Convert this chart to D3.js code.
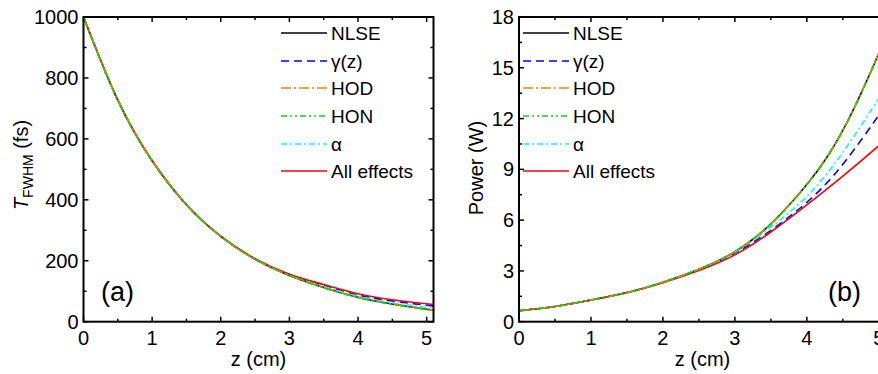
<!DOCTYPE html>
<html>
<head>
<meta charset="utf-8">
<script src="https://d3js.org/d3.v7.min.js"></script>
<style>
  body { margin: 0; background: #fff; }
  text { font-family: Arial, "Liberation Sans", sans-serif; fill: #000; }
</style>
</head>
<body>
<div id="chart"></div>
<script>
// propagation distance (cm)
var zVals = [0, 0.5, 1, 1.5, 2, 2.5, 3, 3.5, 4, 4.5, 5, 5.1];

// panel (a): pulse width T_FWHM (fs)
var tNLSE = [1000, 727, 528, 384, 280, 205, 152, 112, 80, 58, 41, 38];
var tGamma = [1000, 727, 528, 384, 280, 206, 155, 119, 88, 68, 54, 52];
var tHOD = [1000, 727, 528, 384, 280, 205, 152, 112, 80, 58, 41, 38];
var tHON = [1000, 727, 528, 384, 280, 205, 152, 111, 79, 57, 40, 37];
var tAlpha = [1000, 727, 528, 384, 280, 205, 154, 116, 84, 62, 47, 45];
var tAll = [1000, 727, 528, 384, 281, 207, 156, 122, 92, 72, 59, 57];

// panel (b): peak power (W)
var pNLSE = [0.65, 0.9, 1.28, 1.72, 2.33, 3.1, 4.13, 5.78, 8.1, 11.3, 15.85, 16.95];
var pGamma = [0.65, 0.9, 1.28, 1.72, 2.32, 3.07, 4.05, 5.4, 7.05, 9.3, 12.2, 12.85];
var pHOD = [0.65, 0.9, 1.28, 1.72, 2.33, 3.1, 4.13, 5.78, 8.1, 11.3, 15.85, 16.95];
var pHON = [0.65, 0.9, 1.28, 1.72, 2.33, 3.1, 4.13, 5.78, 8.1, 11.3, 15.85, 16.95];
var pAlpha = [0.65, 0.9, 1.28, 1.72, 2.33, 3.09, 4.1, 5.6, 7.4, 10.0, 13.2, 13.9];
var pAll = [0.65, 0.9, 1.28, 1.71, 2.3, 3.02, 3.95, 5.3, 6.9, 8.6, 10.4, 10.8];

var seriesNames = ["NLSE", "\u03b3(z)", "HOD", "HON", "\u03b1", "All effects"];
var seriesColors = ["#000000", "#0000ff", "#ff8000", "#00dd00", "#00ffff", "#ff0000"];
var seriesDash = ["none", "8,5", "10,3,2,3", "6,3,2,3,2,3", "6,3,2,3", "none"];
// drawing order, green on top like the original
var drawOrder = [0, 1, 4, 5, 2, 3];

var xTicks = [0, 1, 2, 3, 4, 5];
var tTicks = [0, 200, 400, 600, 800, 1000];
var pTicks = [0, 3, 6, 9, 12, 15, 18];

var W = 878, H = 374;

var svg = d3.select("#chart").append("svg")
    .attr("width", W)
    .attr("height", H);

function drawPanel(opt) {
  var g = svg.append("g");
  var x = d3.scaleLinear().domain([0, 5.1]).range([opt.left, opt.right]);
  var y = d3.scaleLinear().domain(opt.yDomain).range([opt.bottom, opt.top]);

  // minor + major ticks, inward, on all four sides
  var xMinor = d3.range(0, 5.1, 0.5);
  var yMinor = d3.range(opt.yDomain[0], opt.yDomain[1] + 0.001, opt.yMinorStep);

  xMinor.forEach(function (v) {
    var len = (Math.abs(v - Math.round(v)) < 1e-6) ? 5 : 3;
    g.append("line").attr("x1", x(v)).attr("x2", x(v))
      .attr("y1", opt.bottom).attr("y2", opt.bottom - len)
      .attr("stroke", "#000").attr("stroke-width", 1.5);
    g.append("line").attr("x1", x(v)).attr("x2", x(v))
      .attr("y1", opt.top).attr("y2", opt.top + len)
      .attr("stroke", "#000").attr("stroke-width", 1.5);
  });
  yMinor.forEach(function (v, i) {
    var len = (i % 2 == 0) ? 5 : 3;
    g.append("line").attr("x1", opt.left).attr("x2", opt.left + len)
      .attr("y1", y(v)).attr("y2", y(v))
      .attr("stroke", "#000").attr("stroke-width", 1.5);
    g.append("line").attr("x1", opt.right).attr("x2", opt.right - len)
      .attr("y1", y(v)).attr("y2", y(v))
      .attr("stroke", "#000").attr("stroke-width", 1.5);
  });

  // curves
  var line = d3.line()
    .x(function (d) { return x(d[0]); })
    .y(function (d) { return y(d[1]); })
    .curve(d3.curveNatural);

  drawOrder.forEach(function (k) {
    var pts = zVals.map(function (z, i) { return [z, opt.series[k][i]]; });
    g.append("path")
      .attr("d", line(pts))
      .attr("fill", "none")
      .attr("stroke", seriesColors[k])
      .attr("stroke-width", 1.6)
      .attr("stroke-dasharray", seriesDash[k]);
  });

  // frame
  g.append("rect")
    .attr("x", opt.left).attr("y", opt.top)
    .attr("width", opt.right - opt.left).attr("height", opt.bottom - opt.top)
    .attr("fill", "none").attr("stroke", "#000").attr("stroke-width", 2);

  // tick labels
  g.selectAll(".xl").data(xTicks).enter().append("text")
    .attr("x", function (d) { return x(d); })
    .attr("y", opt.bottom + 23)
    .attr("text-anchor", "middle")
    .style("font-size", "20px")
    .text(function (d) { return d; });

  g.selectAll(".yl").data(opt.yTicks).enter().append("text")
    .attr("x", opt.left - 5)
    .attr("y", function (d) { return y(d) + 7; })
    .attr("text-anchor", "end")
    .style("font-size", "20px")
    .text(function (d) { return d; });

  // x label
  g.append("text")
    .attr("x", (opt.left + opt.right) / 2)
    .attr("y", 366)
    .attr("text-anchor", "middle")
    .style("font-size", "20px")
    .text("z (cm)");

  // legend
  var rowY = [33, 61, 88, 116, 144, 171];
  seriesNames.forEach(function (name, k) {
    g.append("line")
      .attr("x1", opt.legendX).attr("x2", opt.legendX + 46)
      .attr("y1", rowY[k]).attr("y2", rowY[k])
      .attr("stroke", seriesColors[k])
      .attr("stroke-width", 1.6)
      .attr("stroke-dasharray", seriesDash[k]);
    g.append("text")
      .attr("x", opt.legendX + 50)
      .attr("y", rowY[k] + 7)
      .style("font-size", "19px")
      .text(name);
  });

  // panel tag
  g.append("text")
    .attr("x", opt.tagX)
    .attr("y", 301)
    .style("font-size", "27px")
    .text(opt.tag);

  return g;
}

var ga = drawPanel({
  left: 83.5, right: 433.5, top: 17, bottom: 321.7,
  yDomain: [0, 1000], yMinorStep: 100, yTicks: tTicks,
  series: [tNLSE, tGamma, tHOD, tHON, tAlpha, tAll],
  legendX: 281, tag: "(a)", tagX: 101
});

var gb = drawPanel({
  left: 519, right: 886, top: 17, bottom: 321.7,
  yDomain: [0, 18], yMinorStep: 1.5, yTicks: pTicks,
  series: [pNLSE, pGamma, pHOD, pHON, pAlpha, pAll],
  legendX: 523, tag: "(b)", tagX: 828
});

// y axis titles
var ta = svg.append("text")
    .attr("transform", "translate(28,165) rotate(-90)")
    .attr("text-anchor", "middle")
    .style("font-size", "20px");
ta.append("tspan").style("font-style", "italic").text("T");
ta.append("tspan").attr("dy", 5).style("font-size", "14px").text("FWHM");
ta.append("tspan").attr("dy", -5).text(" (fs)");

svg.append("text")
    .attr("transform", "translate(483,168) rotate(-90)")
    .attr("text-anchor", "middle")
    .style("font-size", "20px")
    .text("Power (W)");
</script>
</body>
</html>
